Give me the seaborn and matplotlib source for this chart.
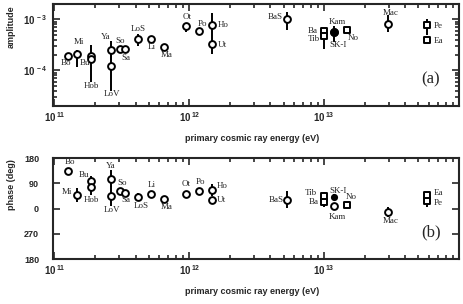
import numpy as np
import pandas as pd
import matplotlib
matplotlib.use('Agg')
import matplotlib.pyplot as plt
import matplotlib.ticker as mticker
import seaborn as sns

# experiments and their primary energies (eV)
names = ['Bo', 'Mi', 'Bu', 'Hob', 'Ya', 'LoV', 'So', 'Sa', 'LoS', 'Li', 'Ma', 'Ot',
         'Po', 'Ho', 'Ut', 'BaS', 'Ba', 'Tib', 'Kam', 'SK-I', 'No', 'Mac', 'Pe', 'Ea']
kinds = ['circle'] * 16 + ['square', 'square', 'circle', 'filled', 'square', 'circle',
                           'square', 'square']
energy = [1.27e11, 1.47e11, 1.86e11, 1.86e11, 2.62e11, 2.62e11, 3.07e11, 3.34e11,
          4.19e11, 5.17e11, 6.5e11, 9.4e11, 1.19e12, 1.48e12, 1.48e12, 5.26e12,
          1.0e13, 1.0e13, 1.19e13, 1.19e13, 1.48e13, 2.96e13, 5.83e13, 5.83e13]

# amplitude with lower / upper error limits
amp = [1.89e-4, 2.14e-4, 1.89e-4, 1.7e-4, 2.48e-4, 1.22e-4, 2.6e-4, 2.6e-4,
       4.2e-4, 4.1e-4, 2.9e-4, 7.4e-4, 5.96e-4, 7.96e-4, 3.37e-4, 1.04e-3,
       5.9e-4, 4.8e-4, 5.55e-4, 5.55e-4, 6.2e-4, 8.1e-4, 7.7e-4, 4.03e-4]
amp_lo = [1.7e-4, 1.16e-4, 1.75e-4, 0.59e-4, 1.6e-4, 0.40e-4, 2.35e-4, 2.35e-4,
          3.0e-4, 3.7e-4, 2.6e-4, 5.7e-4, 5.3e-4, 4.5e-4, 2.07e-4, 6.35e-4,
          5.3e-4, 2.68e-4, 5.0e-4, 3.6e-4, 5.6e-4, 5.7e-4, 5.0e-4, 3.5e-4]
amp_hi = [2.1e-4, 2.5e-4, 2.05e-4, 3.1e-4, 3.7e-4, 2.0e-4, 2.9e-4, 2.9e-4,
          5.3e-4, 4.6e-4, 3.2e-4, 8.6e-4, 6.7e-4, 1.35e-3, 4.5e-4, 1.41e-3,
          6.6e-4, 5.9e-4, 6.2e-4, 7.4e-4, 6.9e-4, 1.22e-3, 1.04e-3, 4.6e-4]

# phase (deg) with symmetric errors
phase = [134, 47, 97, 77, 107, 45, 63, 56, 41, 53, 33, 51,
         62, 65, 32, 32, 24, 45, 8, 41, 12, -12, 26, 47]
phase_err = [8, 25, 20, 30, 30, 35, 8, 8, 14, 10, 10, 8,
             8, 21, 10, 31, 18, 14, 8, 12, 8, 18, 20, 10]

energy_ticks = [1e11, 1e12, 1e13]
phase_ticks = [-180, -90, 0, 90, 180]
phase_ticklabels = ['180', '270', '0', '90', '180']

df = pd.DataFrame({'name': names, 'kind': kinds, 'energy': energy, 'amp': amp,
                   'amp_lo': amp_lo, 'amp_hi': amp_hi, 'phase': phase,
                   'phase_err': phase_err})

# label placement (pixel offsets, +y down) for each panel
lab_a = {'Bo': (-2, 7, 'center'), 'Mi': (2, -12, 'center'), 'Bu': (-6, 7, 'center'),
         'Hob': (1, 27, 'center'), 'Ya': (-5, -13, 'center'), 'LoV': (1.5, 28, 'center'),
         'So': (0, -8, 'center'), 'Sa': (1, 9, 'center'), 'LoS': (0, -10, 'center'),
         'Li': (1, 8, 'center'), 'Ma': (3, 8, 'center'), 'Ot': (1, -9, 'center'),
         'Po': (3, -7, 'center'), 'Ho': (6, 0, 'left'), 'Ut': (6, 1, 'left'),
         'BaS': (-4, -1.5, 'right'), 'Ba': (-6, 0, 'right'), 'Tib': (-4, 3.5, 'right'),
         'Kam': (3, -10, 'center'), 'SK-I': (3.5, 12.5, 'center'), 'No': (1, 8, 'left'),
         'Mac': (3, -11, 'center'), 'Pe': (6, 1, 'left'), 'Ea': (6, 1, 'left')}
lab_b = {'Bo': (2, -9, 'center'), 'Mi': (-5, -3, 'right'), 'Bu': (-7, -6, 'center'),
         'Hob': (1, 13, 'center'), 'Ya': (0, -12.5, 'center'), 'LoV': (1, 14, 'center'),
         'So': (2.5, -8, 'center'), 'Sa': (1, 7.5, 'center'), 'LoS': (3, 9, 'center'),
         'Li': (1, -9, 'center'), 'Ma': (3, 8, 'center'), 'Ot': (0, -10, 'center'),
         'Po': (1.5, -9, 'center'), 'Ho': (4.5, -4, 'left'), 'Ut': (4.5, 0, 'left'),
         'BaS': (-3, 0, 'right'), 'Tib': (-7, -3, 'right'), 'Ba': (-5.5, 0.5, 'right'),
         'SK-I': (3.5, -6, 'center'), 'Kam': (3, 11, 'center'), 'No': (4.5, -8, 'center'),
         'Mac': (3, 9.5, 'center'), 'Ea': (6, -2.5, 'left'), 'Pe': (6, 1.5, 'left')}

sns.set_style('ticks')
plt.rcParams['font.family'] = ['Liberation Sans', 'DejaVu Sans']
plt.rcParams['mathtext.fontset'] = 'custom'
plt.rcParams['mathtext.rm'] = 'Liberation Sans'
plt.rcParams['mathtext.bf'] = 'Liberation Sans:bold'

fig = plt.figure(figsize=(4.63, 3.04), dpi=100)
ax1 = fig.add_axes([0.1145, 0.651, 0.877, 0.3355])
ax2 = fig.add_axes([0.1145, 0.148, 0.877, 0.332])

marker_map = {'circle': ('o', 'white', 24), 'square': ('s', 'white', 22), 'filled': ('o', 'black', 24)}


def draw(ax, ycol, yerr, labels, small_filled=False):
    ax.errorbar(df['energy'], df[ycol], yerr=yerr, fmt='none', ecolor='black',
                elinewidth=1.4, capsize=0, zorder=2)
    for kind in ['circle', 'square', 'filled']:
        sub = df[df['kind'] == kind]
        m, fc, s = marker_map[kind]
        if kind == 'filled' and small_filled:
            s = 14
        sns.scatterplot(data=sub, x='energy', y=ycol, marker=m, color=fc,
                        edgecolor='black', linewidth=1.4, s=s, ax=ax, zorder=3,
                        legend=False)
    for _, r in df.iterrows():
        dx, dy, ha = labels[r['name']]
        ax.annotate(r['name'], (r['energy'], r[ycol]), xytext=(dx, -dy),
                    textcoords='offset pixels', ha=ha, va='center',
                    fontsize=6.5, family='Liberation Serif', zorder=4)


draw(ax1, 'amp', [df['amp'] - df['amp_lo'], df['amp_hi'] - df['amp']], lab_a)
draw(ax2, 'phase', df['phase_err'], lab_b, small_filled=True)

dec_fmt = mticker.FuncFormatter(lambda v, _: r'$\mathbf{10^{\,%d}}$' % round(np.log10(v)))

for ax in (ax1, ax2):
    ax.set_xscale('log')
    ax.set_xlim(10 ** 10.99, 1e14)
    ax.xaxis.set_major_locator(mticker.FixedLocator(energy_ticks))
    ax.xaxis.set_major_formatter(dec_fmt)
    ax.xaxis.set_minor_formatter(mticker.NullFormatter())
    ax.tick_params(which='both', direction='in', top=True, right=True, width=1.2)
    ax.tick_params(which='major', length=5)
    ax.tick_params(which='minor', length=3)
    ax.tick_params(axis='x', pad=3, labelsize=7)
    for sp in ax.spines.values():
        sp.set_linewidth(1.5)
    ax.set_xlabel('primary cosmic ray energy (eV)', fontsize=6.5, fontweight='bold')

ax1.set_yscale('log')
ax1.set_ylim(2e-5, 2e-3)
ax1.yaxis.set_major_locator(mticker.FixedLocator([1e-4, 1e-3]))
ax1.yaxis.set_major_formatter(dec_fmt)
ax1.yaxis.set_minor_formatter(mticker.NullFormatter())
ax1.tick_params(axis='y', pad=4, labelsize=7)
ax1.set_ylabel('amplitude', fontsize=6.5, fontweight='bold')
ax1.yaxis.set_label_coords(-0.092, 0.777)
ax1.xaxis.set_label_coords(0.49, -0.275)
ax1.text(0.93, 0.26, '(a)', transform=ax1.transAxes, fontsize=12,
         family='Liberation Serif', ha='center', va='center')

ax2.set_ylim(-180, 180)
ax2.set_yticks(phase_ticks)
ax2.set_yticklabels(phase_ticklabels, fontweight='bold')
ax2.tick_params(axis='y', which='minor', left=False, right=False)
ax2.tick_params(axis='y', pad=10, labelsize=6.5)
ax2.set_ylabel('phase (deg)', fontsize=6.5, fontweight='bold')
ax2.yaxis.set_label_coords(-0.092, 0.733)
ax2.xaxis.set_label_coords(0.49, -0.28)
ax2.text(0.93, 0.26, '(b)', transform=ax2.transAxes, fontsize=12,
         family='Liberation Serif', ha='center', va='center')

fig.savefig('out.png', dpi=100)
